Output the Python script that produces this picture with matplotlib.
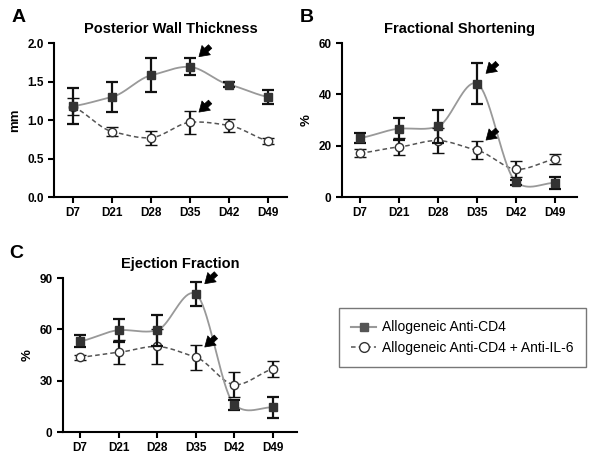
import matplotlib.pyplot as plt
import numpy as np
from matplotlib.transforms import offset_copy

plt.rcParams['font.family'] = ['Liberation Sans', 'DejaVu Sans']

days = ['D7', 'D21', 'D28', 'D35', 'D42', 'D49']

# Posterior wall thickness (mm)
pwt_cd4 = [1.18, 1.30, 1.58, 1.69, 1.46, 1.30]
pwt_cd4_err = [0.23, 0.20, 0.22, 0.11, 0.03, 0.09]
pwt_il6 = [1.17, 0.85, 0.77, 0.97, 0.93, 0.73]
pwt_il6_err = [0.11, 0.06, 0.09, 0.15, 0.08, 0.04]

# Fractional shortening (%)
fs_cd4 = [23.0, 26.6, 27.5, 44.2, 5.8, 5.5]
fs_cd4_err = [2.0, 4.3, 6.5, 8.0, 1.0, 2.3]
fs_il6 = [17.1, 19.5, 22.0, 18.2, 10.8, 14.7]
fs_il6_err = [1.5, 3.3, 5.0, 3.5, 3.2, 2.0]

# Ejection fraction (%)
ef_cd4 = [53.0, 59.5, 59.5, 80.7, 16.0, 14.4]
ef_cd4_err = [3.5, 6.8, 9.0, 6.8, 3.0, 6.0]
ef_il6 = [43.7, 46.6, 50.0, 43.7, 27.7, 36.8]
ef_il6_err = [1.5, 7.0, 10.0, 7.4, 7.5, 4.5]


def smooth(x, y, c=0.6, n=40):
    # cardinal spline through the points (Prism-style smooth connecting curve)
    x = np.asarray(x, float)
    y = np.asarray(y, float)
    k = len(x)
    m = np.zeros(k)
    m[1:-1] = c * (y[2:] - y[:-2]) / (x[2:] - x[:-2])
    m[0] = c * (y[1] - y[0]) / (x[1] - x[0])
    m[-1] = c * (y[-1] - y[-2]) / (x[-1] - x[-2])
    xs_all, ys_all = [], []
    for i in range(k - 1):
        h = x[i + 1] - x[i]
        t = np.linspace(0, 1, n)
        h00 = 2 * t ** 3 - 3 * t ** 2 + 1
        h10 = t ** 3 - 2 * t ** 2 + t
        h01 = -2 * t ** 3 + 3 * t ** 2
        h11 = t ** 3 - t ** 2
        xs_all.append(x[i] + t * h)
        ys_all.append(h00 * y[i] + h10 * h * m[i] + h01 * y[i + 1] + h11 * h * m[i + 1])
    return np.concatenate(xs_all), np.concatenate(ys_all)


def panel(ax, title, letter, letter_xy, ylabel, cd4, cd4_err, il6, il6_err, ylim, yticks, yfmt, xlim):
    x = np.arange(len(days))
    xs, ys = smooth(x, il6)
    ax.plot(xs, ys, color='#555555', ls=(0, (3, 2)), lw=1.1, zorder=2)
    xs, ys = smooth(x, cd4)
    ax.plot(xs, ys, color='#999999', lw=1.3, zorder=2)
    ax.errorbar(x, il6, yerr=il6_err, fmt='o', ms=6, mfc='white', mec='#333333',
                mew=1.0, ecolor='#111111', elinewidth=1.6, capsize=4, capthick=1.6, zorder=3)
    ax.errorbar(x, cd4, yerr=cd4_err, fmt='s', ms=5.5, mfc='#333333', mec='#333333',
                ecolor='#111111', elinewidth=1.6, capsize=4, capthick=1.6, zorder=4)
    for v in (cd4[3], il6[3]):
        tr_head = offset_copy(ax.transData, fig=ax.figure, x=5, y=6, units='points')
        tr_tail = offset_copy(ax.transData, fig=ax.figure, x=16, y=16, units='points')
        ax.annotate('', xy=(3, v), xycoords=tr_head, xytext=(3, v), textcoords=tr_tail,
                    arrowprops=dict(arrowstyle='simple,head_width=0.9,head_length=0.7,tail_width=0.35',
                                    color='black', lw=0.5))
    ax.set_xlim(*xlim)
    ax.set_ylim(*ylim)
    ax.set_xticks(x)
    ax.set_xticklabels(days)
    ax.set_yticks(yticks)
    ax.set_yticklabels([yfmt.format(t) for t in yticks])
    for s in ('top', 'right'):
        ax.spines[s].set_visible(False)
    for s in ('left', 'bottom'):
        ax.spines[s].set_linewidth(1.5)
    ax.tick_params(width=1.5, length=4, labelsize=8.5)
    for lab in ax.get_xticklabels() + ax.get_yticklabels():
        lab.set_fontweight('bold')
    ax.set_ylabel(ylabel, fontsize=9.5, fontweight='bold')
    ax.set_title(title, fontsize=10.5, fontweight='bold', pad=7)
    fig = ax.figure
    ax.figure.text(letter_xy[0] / 601, 1 - letter_xy[1] / 459, letter, fontsize=14,
                   fontweight='bold', ha='left', va='center')


fig = plt.figure(figsize=(6.01, 4.59), dpi=100)
axA = fig.add_axes([0.0899, 0.5708, 0.3876, 0.3355])
axB = fig.add_axes([0.569, 0.5708, 0.391, 0.3355])
axC = fig.add_axes([0.1048, 0.0588, 0.3892, 0.3355])

panel(axA, 'Posterior Wall Thickness', 'A', (12, 17), 'mm', pwt_cd4, pwt_cd4_err, pwt_il6, pwt_il6_err,
      (0, 2.0), [0.0, 0.5, 1.0, 1.5, 2.0], '{:.1f}', (-0.49, 5.49))
panel(axB, 'Fractional Shortening', 'B', (300, 17), '%', fs_cd4, fs_cd4_err, fs_il6, fs_il6_err,
      (0, 60), [0, 20, 40, 60], '{:d}', (-0.46, 5.56))
panel(axC, 'Ejection Fraction', 'C', (9, 254), '%', ef_cd4, ef_cd4_err, ef_il6, ef_il6_err,
      (0, 90), [0, 30, 60, 90], '{:d}', (-0.44, 5.62))

h1, = axA.plot([], [], color='#999999', lw=1.5, marker='s', ms=6, mfc='#555555', mec='#555555')
h2, = axA.plot([], [], color='#555555', lw=1.1, ls=(0, (3, 2)), marker='o', ms=7,
               mfc='white', mec='#333333')
fig.legend([h1, h2], ['Allogeneic Anti-CD4', 'Allogeneic Anti-CD4 + Anti-IL-6'],
           loc='center', bbox_to_anchor=(0.769, 0.2647), fontsize=10, fancybox=False,
           edgecolor='#777777', handlelength=1.8, handletextpad=0.4, borderpad=0.9,
           labelspacing=0.45, framealpha=1)

fig.savefig('out.png', dpi=100)
